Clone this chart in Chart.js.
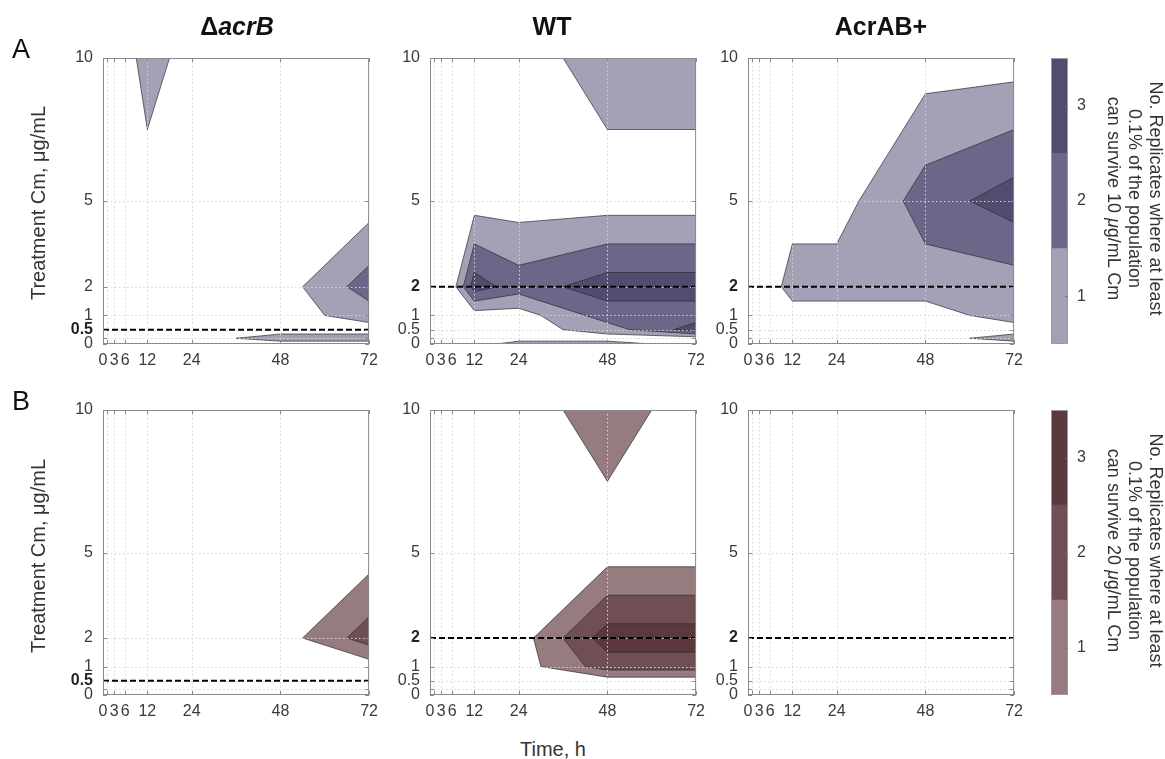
<!DOCTYPE html>
<html>
<head>
<meta charset="utf-8">
<script src="https://cdn.jsdelivr.net/npm/chart.js@4.4.1/dist/chart.umd.min.js"></script>
<style>
  html, body { margin: 0; padding: 0; background: #fff; }
  #page { position: relative; width: 1165px; height: 759px; overflow: hidden;
          font-family: "Liberation Sans", Arial, Helvetica, sans-serif; }
  canvas { position: absolute; }
  .txt { position: absolute; white-space: nowrap; line-height: 1; text-align: center; }
</style>
</head>
<body>
<div id="page"></div>
<script>
// sample points of the survival grid
const times = [0, 1, 3, 6, 12, 24, 48, 72];
const concs = [0, 0.2, 0.5, 1, 2, 5, 10];

const xTicks = [0, 1, 3, 6, 12, 24, 48, 72];
const xTickLabels = ['0', '', '3', '6', '12', '24', '48', '72'];
const yTicks = [0, 0.2, 0.5, 1, 2, 5, 10];
const yTickLabels = ['0', '', '0.5', '1', '2', '5', '10'];

const levels = [0.5, 1.5, 2.5];
const barEdges = [0.5, 1.5, 2.5, 3.5];
const barTicks = [1, 2, 3];
const barTickLabels = ['1', '2', '3'];

// replicate counts: one row per concentration (0 -> 10), one column per time point
const acrB10 = [
  [0, 0, 0, 0, 0, 0, 0, 0],
  [0, 0, 0, 0, 0, 0, 1, 1],
  [0, 0, 0, 0, 0, 0, 0, 0],
  [0, 0, 0, 0, 0, 0, 0, 1],
  [0, 0, 0, 0, 0, 0, 0, 2],
  [0, 0, 0, 0, 0, 0, 0, 0],
  [0, 0, 0, 0, 1, 0, 0, 0]
];
const wt10 = [
  [0, 0, 0, 0, 0, 1, 1, 0],
  [0, 0, 0, 0, 0, 0, 0, 0],
  [0, 0, 0, 0, 0, 0, 1, 3],
  [0, 0, 0, 0, 0, 0, 2, 2],
  [0, 0, 0, 0, 3, 2, 3, 3],
  [0, 0, 0, 0, 0, 0, 0, 0],
  [0, 0, 0, 0, 0, 0, 1, 1]
];
const acrAB10 = [
  [0, 0, 0, 0, 0, 0, 0, 0],
  [0, 0, 0, 0, 0, 0, 0, 1],
  [0, 0, 0, 0, 0, 0, 0, 0],
  [0, 0, 0, 0, 0, 0, 0, 1],
  [0, 0, 0, 0, 1, 1, 1, 1],
  [0, 0, 0, 0, 0, 0, 2, 3],
  [0, 0, 0, 0, 0, 0, 0, 0]
];
const acrB20 = [
  [0, 0, 0, 0, 0, 0, 0, 0],
  [0, 0, 0, 0, 0, 0, 0, 0],
  [0, 0, 0, 0, 0, 0, 0, 0],
  [0, 0, 0, 0, 0, 0, 0, 0],
  [0, 0, 0, 0, 0, 0, 0, 2],
  [0, 0, 0, 0, 0, 0, 0, 0],
  [0, 0, 0, 0, 0, 0, 0, 0]
];
const wt20 = [
  [0, 0, 0, 0, 0, 0, 0, 0],
  [0, 0, 0, 0, 0, 0, 0, 0],
  [0, 0, 0, 0, 0, 0, 0, 0],
  [0, 0, 0, 0, 0, 0, 2, 2],
  [0, 0, 0, 0, 0, 0, 3, 3],
  [0, 0, 0, 0, 0, 0, 0, 0],
  [0, 0, 0, 0, 0, 0, 1, 0]
];
const acrAB20 = [
  [0, 0, 0, 0, 0, 0, 0, 0],
  [0, 0, 0, 0, 0, 0, 0, 0],
  [0, 0, 0, 0, 0, 0, 0, 0],
  [0, 0, 0, 0, 0, 0, 0, 0],
  [0, 0, 0, 0, 0, 0, 0, 0],
  [0, 0, 0, 0, 0, 0, 0, 0],
  [0, 0, 0, 0, 0, 0, 0, 0]
];

// dashed reference concentration per strain
const refLines = [0.5, 2, 2];

const FONT = '"Liberation Sans", Arial, Helvetica, sans-serif';
const purple = ['#a4a0b6', '#6d6688', '#544c6e'];
const wine = ['#967c7f', '#6f4f53', '#5b383c'];

const page = document.getElementById('page');

function addCanvas(left, top, w, h) {
    const c = document.createElement('canvas');
    c.width = w; c.height = h;
    c.style.left = left + 'px'; c.style.top = top + 'px';
    c.style.width = w + 'px'; c.style.height = h + 'px';
    page.appendChild(c);
    return c;
}

// filled contour bands (marching squares on each cell) + grid, box and ticks
function contourPlugin(grid, pal) {
    return {
        id: 'contours',
        beforeDatasetsDraw(chart) {
            const { ctx, chartArea: a, scales: { x, y } } = chart;
            const px = p => [x.getPixelForValue(p.t), y.getPixelForValue(p.c)];
            ctx.save();
            ctx.beginPath();
            ctx.rect(a.left, a.top, a.right - a.left, a.bottom - a.top);
            ctx.clip();
            const chords = [];
            levels.forEach((L, k) => {
                ctx.beginPath();
                for (let j = 0; j < concs.length - 1; j++) {
                    for (let i = 0; i < times.length - 1; i++) {
                        const cs = [
                            { t: times[i], c: concs[j], v: grid[j][i] },
                            { t: times[i + 1], c: concs[j], v: grid[j][i + 1] },
                            { t: times[i + 1], c: concs[j + 1], v: grid[j + 1][i + 1] },
                            { t: times[i], c: concs[j + 1], v: grid[j + 1][i] }
                        ];
                        const pts = [];
                        for (let q = 0; q < 4; q++) {
                            const p = cs[q], n = cs[(q + 1) % 4];
                            if (p.v >= L) pts.push({ t: p.t, c: p.c, cross: false });
                            if ((p.v >= L) !== (n.v >= L)) {
                                const f = (L - p.v) / (n.v - p.v);
                                pts.push({ t: p.t + f * (n.t - p.t), c: p.c + f * (n.c - p.c), cross: true });
                            }
                        }
                        if (!pts.length) continue;
                        pts.forEach((p, n) => {
                            const [X, Y] = px(p);
                            if (n) ctx.lineTo(X, Y); else ctx.moveTo(X, Y);
                            const nx = pts[(n + 1) % pts.length];
                            if (p.cross && nx.cross) chords.push([p, nx]);
                        });
                        ctx.closePath();
                    }
                }
                ctx.fillStyle = pal[k];
                ctx.fill();
            });
            ctx.beginPath();
            chords.forEach(([p, q]) => {
                ctx.moveTo(...px(p));
                ctx.lineTo(...px(q));
            });
            ctx.strokeStyle = 'rgba(40,40,48,0.85)';
            ctx.lineWidth = 0.8;
            ctx.stroke();

            // dotted grid on top of the fills
            ctx.setLineDash([1.5, 2.5]);
            ctx.strokeStyle = '#d5d5d5';
            ctx.lineWidth = 1;
            ctx.beginPath();
            xTicks.forEach(v => {
                const X = Math.round(x.getPixelForValue(v)) + 0.5;
                ctx.moveTo(X, a.top); ctx.lineTo(X, a.bottom);
            });
            yTicks.forEach(v => {
                const Y = Math.round(y.getPixelForValue(v)) + 0.5;
                ctx.moveTo(a.left, Y); ctx.lineTo(a.right, Y);
            });
            ctx.stroke();
            ctx.restore();
        },
        afterDatasetsDraw(chart) {
            const { ctx, chartArea: a, scales: { x, y } } = chart;
            ctx.save();
            ctx.strokeStyle = '#8a8a8a';
            ctx.lineWidth = 1;
            ctx.strokeRect(a.left + 0.5, a.top + 0.5, a.right - a.left - 1, a.bottom - a.top - 1);
            ctx.beginPath();
            xTicks.forEach(v => {
                const X = Math.round(x.getPixelForValue(v)) + 0.5;
                ctx.moveTo(X, a.bottom); ctx.lineTo(X, a.bottom - 4);
                ctx.moveTo(X, a.top); ctx.lineTo(X, a.top + 4);
            });
            yTicks.forEach(v => {
                const Y = Math.round(y.getPixelForValue(v)) + 0.5;
                ctx.moveTo(a.left, Y); ctx.lineTo(a.left + 4, Y);
                ctx.moveTo(a.right, Y); ctx.lineTo(a.right - 4, Y);
            });
            ctx.stroke();
            ctx.restore();
        }
    };
}

function makePanel(box, grid, pal, ref) {
    const padL = 60, padT = 25, padR = 15, padB = 35;
    const canvas = addCanvas(box.left - padL, box.top - padT, box.w + padL + padR, box.h + padT + padB);
    return new Chart(canvas, {
        type: 'scatter',
        data: {
            datasets: [{
                data: [{ x: 0, y: ref }, { x: 72, y: ref }],
                showLine: true,
                borderColor: '#000',
                borderWidth: 2,
                borderDash: [6, 3],
                pointRadius: 0
            }]
        },
        options: {
            responsive: false,
            animation: false,
            layout: { padding: { left: 0, top: padT, right: padR, bottom: 0 } },
            plugins: { legend: { display: false }, tooltip: { enabled: false } },
            scales: {
                x: {
                    type: 'linear', min: 0, max: 72,
                    grid: { display: false, drawTicks: false },
                    border: { display: false },
                    afterBuildTicks: s => { s.ticks = xTicks.map(v => ({ value: v })); },
                    afterFit: s => { s.height = padB; },
                    ticks: {
                        autoSkip: false, maxRotation: 0, minRotation: 0, padding: 7,
                        color: '#3a3a3a', font: { family: FONT, size: 16 },
                        callback: (v, i) => xTickLabels[i]
                    }
                },
                y: {
                    type: 'linear', min: 0, max: 10,
                    grid: { display: false, drawTicks: false },
                    border: { display: false },
                    afterBuildTicks: s => { s.ticks = yTicks.map(v => ({ value: v })); },
                    afterFit: s => { s.width = padL; },
                    ticks: {
                        autoSkip: false, padding: 10,
                        color: c => (c.tick && c.tick.value === ref) ? '#222' : '#3a3a3a',
                        font: c => ({ family: FONT, size: 16,
                                      weight: (c.tick && c.tick.value === ref) ? 'bold' : 'normal' }),
                        callback: (v, i) => yTickLabels[i]
                    }
                }
            }
        },
        plugins: [contourPlugin(grid, pal)]
    });
}

function makeColorbar(box, pal) {
    const padT = 25, padB = 25, padR = 45;
    const canvas = addCanvas(box.left, box.top - padT, box.w + padR, box.h + padT + padB);
    return new Chart(canvas, {
        type: 'bar',
        data: {
            labels: ['n'],
            datasets: pal.map((col, k) => ({
                data: [[barEdges[k], barEdges[k + 1]]],
                backgroundColor: col,
                borderWidth: 0,
                grouped: false,
                barPercentage: 1,
                categoryPercentage: 1
            }))
        },
        options: {
            responsive: false,
            animation: false,
            layout: { padding: { left: 0, top: padT, right: 0, bottom: padB } },
            plugins: { legend: { display: false }, tooltip: { enabled: false } },
            scales: {
                x: { display: false },
                y: {
                    position: 'right', min: barEdges[0], max: barEdges[barEdges.length - 1],
                    grid: { display: false, drawTicks: false },
                    border: { display: false },
                    afterBuildTicks: s => { s.ticks = barTicks.map(v => ({ value: v })); },
                    afterFit: s => { s.width = padR; },
                    ticks: {
                        padding: 9, color: '#3a3a3a', font: { family: FONT, size: 16 },
                        callback: (v, i) => barTickLabels[i]
                    }
                }
            }
        },
        plugins: [{
            id: 'cbframe',
            afterDatasetsDraw(chart) {
                const { ctx, chartArea: a, scales: { y } } = chart;
                ctx.save();
                ctx.strokeStyle = '#9a9a9a';
                ctx.lineWidth = 1;
                ctx.strokeRect(a.left + 0.5, a.top + 0.5, a.right - a.left - 1, a.bottom - a.top - 1);
                ctx.beginPath();
                barTicks.forEach(v => {
                    const Y = Math.round(y.getPixelForValue(v)) + 0.5;
                    ctx.moveTo(a.right, Y); ctx.lineTo(a.right - 3, Y);
                });
                ctx.strokeStyle = '#777';
                ctx.stroke();
                ctx.restore();
            }
        }]
    });
}

// layout
const colLeft = [103, 430, 748];
const rowTop = [58, 410];
const rowH = [286, 285];
const grids = [[acrB10, wt10, acrAB10], [acrB20, wt20, acrAB20]];
const palettes = [purple, wine];

grids.forEach((row, r) => {
    row.forEach((g, c) => {
        makePanel({ left: colLeft[c], top: rowTop[r], w: 267, h: rowH[r] }, g, palettes[r], refLines[c]);
    });
    makeColorbar({ left: 1051, top: rowTop[r], w: 17, h: rowH[r] }, palettes[r]);
});

// texts
function addText(html, o) {
    const d = document.createElement('div');
    d.className = 'txt';
    d.innerHTML = html;
    d.style.fontSize = o.size + 'px';
    d.style.color = o.color || '#222';
    if (o.bold) d.style.fontWeight = 'bold';
    const lh = o.lh || o.size;
    const lines = o.lines || 1;
    d.style.lineHeight = lh + 'px';
    d.style.width = '400px';
    if (o.rot) {
        d.style.left = (o.cx - 200) + 'px';
        d.style.top = (o.cy - lines * lh / 2) + 'px';
        d.style.transform = 'rotate(' + o.rot + 'deg)';
        d.style.transformOrigin = '50% 50%';
    } else {
        d.style.left = (o.cx - 200) + 'px';
        d.style.top = (o.base - 0.8465 * o.size) + 'px';
    }
    page.appendChild(d);
}

addText('&Delta;<i>acrB</i>', { cx: 237, base: 35, size: 25, bold: true, color: '#111' });
addText('WT', { cx: 552, base: 35, size: 25, bold: true, color: '#111' });
addText('AcrAB+', { cx: 881, base: 35, size: 25, bold: true, color: '#111' });
addText('A', { cx: 21, base: 59, size: 27, color: '#111' });
addText('B', { cx: 21, base: 411, size: 27, color: '#111' });
addText('Treatment Cm, &mu;g/mL', { cx: 38, cy: 203, size: 20, rot: -90, color: '#333' });
addText('Treatment Cm, &mu;g/mL', { cx: 38, cy: 556, size: 20, rot: -90, color: '#333' });
addText('Time, h', { cx: 553, base: 756, size: 20, color: '#333' });
addText('No. Replicates where at least<br>0.1% of the population<br>can survive 10 <i>&mu;</i>g/mL Cm',
        { cx: 1134, cy: 198, size: 18, lh: 21, lines: 3, rot: 90, color: '#333' });
addText('No. Replicates where at least<br>0.1% of the population<br>can survive 20 <i>&mu;</i>g/mL Cm',
        { cx: 1134, cy: 550, size: 18, lh: 21, lines: 3, rot: 90, color: '#333' });
</script>
</body>
</html>
